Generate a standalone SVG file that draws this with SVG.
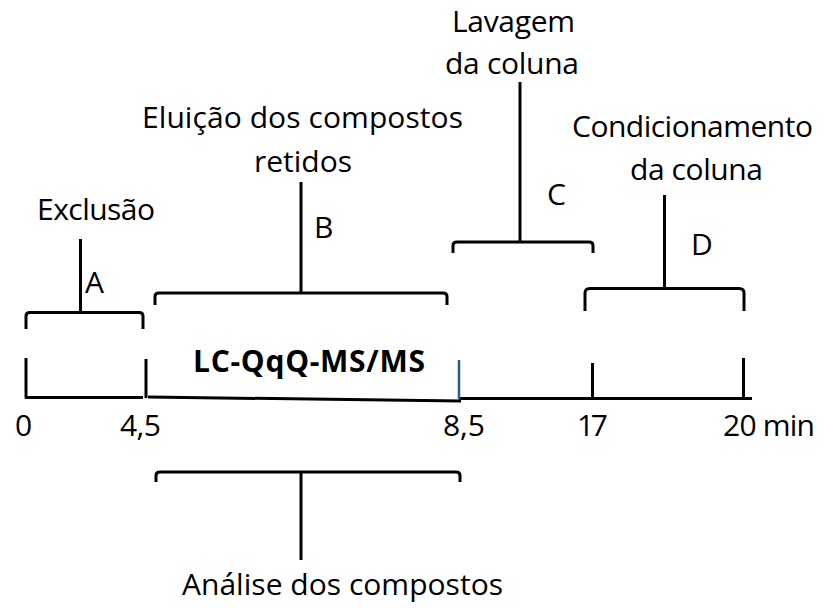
<svg xmlns="http://www.w3.org/2000/svg" width="827" height="610" viewBox="0 0 827 610">
<style>
  .ln { fill: none; stroke: #000; stroke-width: 3; stroke-linecap: butt; stroke-linejoin: round; }
  .t { font-family: "Open Sans", "Liberation Sans", sans-serif; font-size: 30px; fill: #000; }
  .b { font-weight: bold; }
</style>
<rect width="827" height="610" fill="#fff"/>
<g id="axis">
  <path class="ln" d="M26,358 V397.5 H143"/>
  <path class="ln" d="M146,359 V398"/>
  <path class="ln" d="M148,397 L461,401"/>
  <path class="ln" d="M459,398.5 H752"/>
  <path class="ln" d="M592.5,363 V398"/>
  <path class="ln" d="M743.5,358 V398"/>
  <path fill="none" stroke="#2e5a87" stroke-width="2.5" d="M459,360 V399"/>
  <text class="t" x="15" y="436">0</text>
  <text class="t" x="120" y="436" textLength="41">4,5</text>
  <text class="t" x="443" y="436" textLength="42">8,5</text>
  <text class="t" x="577" y="436" textLength="31">17</text>
  <text class="t" x="723" y="436" textLength="92">20 min</text>
</g>
<g id="lcms">
  <text class="t b" x="193" y="372" textLength="232">LC-QqQ-MS/MS</text>
</g>
<g id="nodeA">
  <text class="t" x="37" y="220" textLength="118">Exclusão</text>
  <text class="t" x="85" y="293">A</text>
</g>
<g id="nodeB">
  <text class="t" x="142" y="128" textLength="321">Eluição dos compostos</text>
  <text class="t" x="254" y="171.5" textLength="98">retidos</text>
  <text class="t" x="314" y="237.5">B</text>
</g>
<g id="nodeC">
  <text class="t" x="452" y="32" textLength="123">Lavagem</text>
  <text class="t" x="445" y="74" textLength="134">da coluna</text>
  <text class="t" x="547" y="205">C</text>
</g>
<g id="nodeD">
  <text class="t" x="572" y="137" textLength="241">Condicionamento</text>
  <text class="t" x="630" y="180" textLength="133">da coluna</text>
  <text class="t" x="691" y="255">D</text>
</g>
<g id="nodeAnalise">
  <text class="t" x="182" y="595" textLength="321">Análise dos compostos</text>
</g>
<g id="connectors">
  <path class="ln" d="M26,329 V316 Q26,312.5 30,312.5 H139 Q143,312.5 143,316 V329"/>
  <path class="ln" d="M80.5,239 V312.5"/>
  <path class="ln" d="M155,305 V296.5 Q155,293 159,293 H443 Q447,293 447,296.5 V305"/>
  <path class="ln" d="M301,182 V293"/>
  <path class="ln" d="M453,253 V245.5 Q453,242 457,242 H589 Q593,242 593,245.5 V253"/>
  <path class="ln" d="M520,82 V242"/>
  <path class="ln" d="M585,311 V293 Q585,288.5 590,288.5 H739 Q744,288.5 744,293 V311"/>
  <path class="ln" d="M664.5,195 V288.5"/>
  <path class="ln" d="M156,482 V475.5 Q156,472 160,472 H456 Q460,472 460,475.5 V482"/>
  <path class="ln" d="M301,472 V560"/>
</g>
</svg>
